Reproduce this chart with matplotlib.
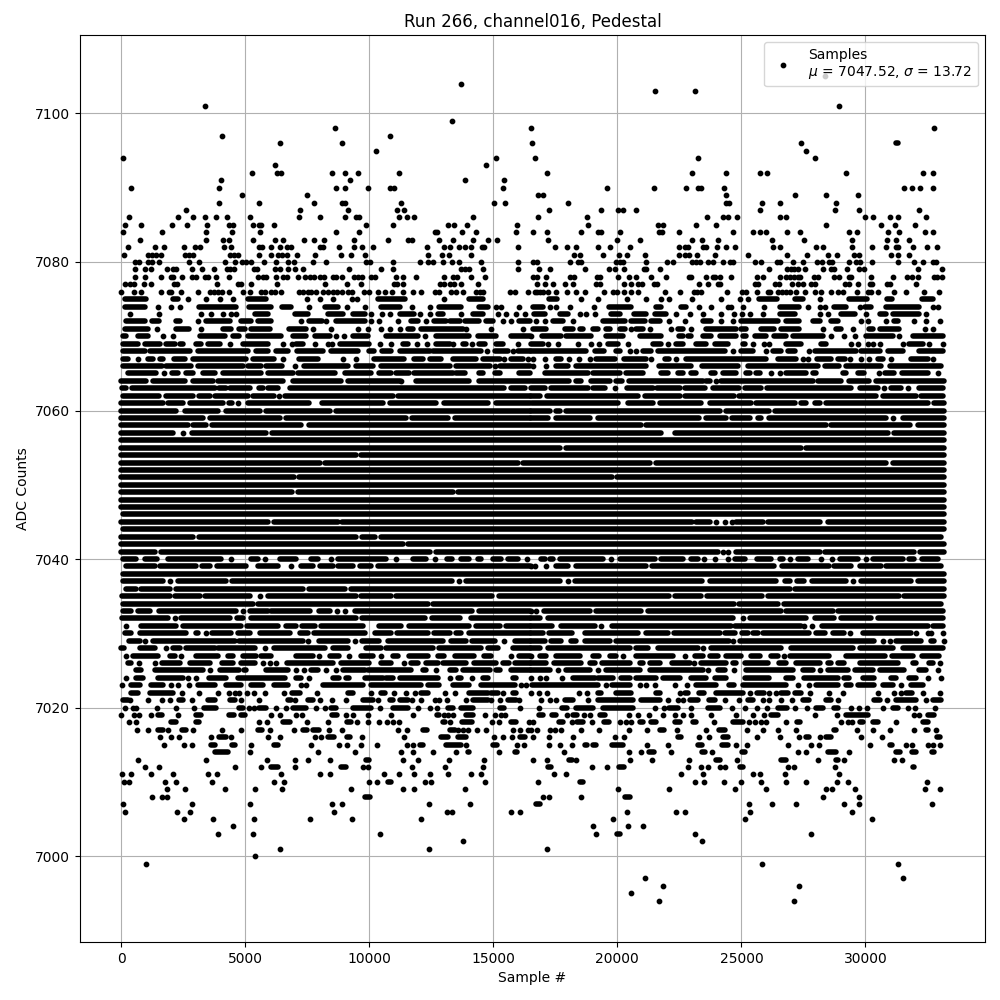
import matplotlib
matplotlib.use('Agg')
import matplotlib.pyplot as plt

title = 'Run 266, channel016, Pedestal'
x_label = 'Sample #'
y_label = 'ADC Counts'
legend_label = 'Samples\n$\\mu$ = 7047.52, $\\sigma$ = 13.72'

# One list per ADC level.
# A plain number is one sample, a tuple is a run of samples that touch each other.
lvl_7105 = [28362]
lvl_7104 = [13692]
lvl_7103 = [21513, 23124]
lvl_7101 = [3378, 28926]
lvl_7099 = [13330]
lvl_7098 = [8615, 16530, 32754]
lvl_7097 = [4063, 10832]
lvl_7096 = [6400, 8898, 16557, 27395, (31250, 31317)]
lvl_7095 = [10268, 27597]
lvl_7094 = [74, 15102, 16678, 23245, 27959]
lvl_7093 = [6198, 14700]
lvl_7092 = [5272, 6265, 6440, 8495, 9018, 9542, 11194, 17161, 23003, 24373, 25743, 26025, 29208, 32310, 32714]
lvl_7091 = [4023, 9220, 13853, 15425]
lvl_7090 = [396, 3942, 8656, 9018, 9945, 10832, 10993, 15384, 19579, 21472, 22762, 23245, 23366, 24293, 31545, 31867, 32190, 32714]
lvl_7089 = [4869, 7487, 16799, 17000, 24373, 27153, 28402, 29692]
lvl_7088 = [3942, 5554, 7770, 8898, 9018, 11275, 15022, 15465, 18007, 24373, 24494, 25824, 26549, 28805]
lvl_7087 = [2612, 7205, 9140, 11114, 11396, 17242, 19337, 20022, 20223, 20747, 25743, 28765, 29732, 32149]
lvl_7086 = [316, 2290, 2894, 3378, 3821, 4264, 5191, 7165, 8011, 9018, 9461, 9582, 11194, 11516, 11798, 14176, 16799, 18773, 23608, 24252, 24454, 24816, 26549, 26791, 29974, 30296, 30981, 31303, 32431]
lvl_7085 = [155, 799, 2048, 2653, 3458, 4345, 4506, 5312, 5554, 5634, 6158, 9865, 10952, 13168, 13410, 13934, 15948, 18813, 21634, 21835, 23164, 23970, 28402, 30618, 31182, 32001]
lvl_7084 = [74, 1646, 3418, 4466, 5594, 8656, 9582, 12644, 12724, 13733, 14296, 15908, 16597, 17161, 18531, 19216, 19337, 20103, 21674, 21795, 22480, 24655, 25461, 25743, 25985, 26831, 27355, 29329, 29652, 30900, 31344, 32391, 32714]
lvl_7083 = [759, 3418, 4103, 4345, 5312, 6198, 6521, 7367, 7770, 8172, 9381, 10751, 11557, 11718, 12806, 13370, 14176, 14780, 15143, 17202, 19982, 20909, 23003, 23406, 24051, 26227, 27516, 29450, 30860, 31222, 31746]
lvl_7082 = [276, 1363, 1726, 2532, 2975, 3177, 4143, 4425, 5554, 5674, 6037, 6400, 6682, 6843, 8011, 8132, 8777, 9381, 9703, 10147, 12322, 13007, 13249, 13612, 13853, 14095, 14539, 14619, 15988, 17484, 17967, 18330, 19216, 19700, 20505, 22480, 22721, 22842, 23447, 23568, 24011, 24373, 24736, 26267, 26549, 28000, 28281, 29450, 30255, 30820, 31222, 31303, 31908, 32472, 32874]
lvl_7081 = [114, 1081, 1242, 1404, 1605, 2572, 2733, 2894, 4385, 4546, 4707, 5554, 6037, 6319, 6480, 6682, 7084, 7810, 8858, 9260, 9824, 12362, 12927, 13209, 14095, 18249, 18491, 19418, 20062, 20385, 21110, 22480, 22721, 22883, 23205, 23930, 25260, 26831, 27637, 28483, 28845, 29530, 29732, 31021, 31303, 31746]
lvl_7080 = [557, 719, 1081, 1242, 1525, 2733, 3136, 4184, 4587, 4869, 5030, 5231, 5755, 6239, 6722, 6964, 7729, 8253, 9865, 10026, 10952, 12040, 12362, 12564, 12967, 13330, 13612, 14498, 15988, 16597, 16758, 18088, 18410, 18531, 19941, 20103, 20223, 21150, 21996, 22238, 23003, 23164, 23326, 23648, 23850, 24252, 24534, 24655, 25542, 25784, 26428, 26549, 27073, 27476, 28040, 28241, 28523, 28644, 29329, 29611, 29773, 30255, 31303, 31948, 32310, 32714, 32834]
lvl_7079 = [557, 960, 1202, 1847, 2088, 2209, 2854, 3257, 3740, 4264, 4385, 4546, 5352, 5473, 6198, 6400, 6722, 7004, 7326, 9180, 10470, 10952, 13692, 13853, 14015, 14579, 15988, 16839, 17282, 18692, 19660, 19901, 20264, 21070, 21150, 21714, 26106, 26831, 26992, 27113, 27274, 27556, 28281, 28604, 28725, 29248, 29732, 29934, 32122, 33076]
lvl_7078 = [557, 960, 1605, 2008, 2088, 2451, 2854, 3015, 3378, 3499, 3821, 4345, 5513, 5715, 5835, 6239, 6521, 6682, 7125, 7407, 7608, 7770, 8011, 8172, 8535, 8656, 8898, 9381, 9542, 9703, 10066, 10227, 11073, 11355, 11879, 13007, 13370, 13531, 14095, 14659, 16597, 16758, 17121, 18088, 18249, 19176, 19297, 20022, 20465, 20747, 21352, 21956, 22883, 22963, 23568, 23850, 23930, 24132, 24575, 25622, 25864, 26549, 26791, 26952, 27113, 27274, 27355, 27919, 28080, 28725, 28926, 29329, 29410, 30215, 31102, 31666, 31867, 32109, 32754, 32874, 33076]
lvl_7077 = [155, 356, 517, 920, 1202, 2129, 2250, 3861, 4707, 4828, 5231, 6279, 8213, 9099, 9663, 10993, 11114, 11355, 12846, 13007, 13249, 13410, 13692, 14377, 16758, 17081, 17403, 17887, 18209, 19136, 19297, 20264, 20546, 20828, 20989, 21472, 21593, 23285, 23648, 24051, 24132, 25542, 25663, 26347, 26509, 27032, 27274, 27476, 27798, 27959, 29168, 29329, 29692, 30175, 30255, 30860, 30981, 32028]
lvl_7076 = [0, 517, 799, 1605, 1927, 2008, 2411, 3096, 3579, 3740, 3902, 4063, 4345, 4909, 5191, 5634, 5795, 6037, 6198, 6440, 7165, 7326, 7528, 7649, 7850, 8132, 8334, 8535, 8696, 8898, 9140, 9300, 9784, 9985, 10348, 10630, 10912, 11355, 11758, 12080, 12644, 12806, 13289, 13491, 13773, 14296, 14458, 14579, 15666, 15868, 16392, 16678, 16758, 16879, 17000, 17202, 17524, 17967, 18330, 18692, 19458, 19821, 19982, 20264, 20546, 20828, 21915, 22520, 23084, 23205, 23366, 24414, 25018, 25179, 25622, 26065, 26146, 26468, 26630, 26791, 26952, 27194, 27556, 27959, 28201, 28604, 28886, 29087, 29651, 30094, 30215, 30497, 31142, 31626, 32350, 32955]
lvl_7075 = [(140, 1010), (2090, 2290), 2690, 3430, 4000, 4506, (5110, 5850), 7490, 8010, 8535, 9300, 9500, (10340, 11450), 13010, (14040, 14580), (17240, 17560), 18545, 19215, 20385, 21160, 21770, 22100, 23000, 24185, 24925, 25260, (25700, 26430), (27180, 27500), 28150, (29330, 30055), (30870, 31060), (32285, 32740)]
lvl_7074 = [(140, 950), 1485, 2020, 2360, (3140, 4640), (5150, 6050), (6490, 6860), 7570, (8200, 8740), 9100, 9810, (10480, 11220), 11720, 12430, (12810, 13710), (14440, 14780), 15120, 15320, 16030, (16600, 17000), 17300, 17510, 18100, 19040, (19660, 20560), (21570, 21770), (22575, 22775), 23310, 23780, 24450, 24590, 25060, 25930, (26540, 27340), 27670, 28150, 28350, (28750, 29220), 29760, (30000, 30230), (30810, 32170), 32740, 32915]
lvl_7073 = [370, 1520, 3230, 3630, 4100, 4440, 4640, (5380, 5920), (6990, 7530), (8330, 8940), (9340, 9810), 10080, 10520, 10820, (11220, 11820), 12030, 12430, (12770, 12970), 13700, (14170, 14580), 15180, 15520, 15920, 16260, (16660, 17070), (17670, 18000), 18480, 18750, 19080, (19750, 20090), (20690, 21160), (21500, 21970), 22370, 22910, 23450, 24185, 24720, 25030, 25330, 25860, (26540, 27140), 28150, 28480, (29020, 29560), 30030, (30570, 30830), (31100, 32170), 32440]
lvl_7072 = [(210, 950), (1260, 1530), (2220, 2360), 3100, (3430, 4370), (4840, 5240), (5510, 6050), 7230, (7570, 8110), 8270, (8640, 9810), 10080, 10390, 11150, (11690, 11960), 12290, (12630, 13100), (13240, 13640), (13840, 14440), (14710, 14980), 15380, 15720, (16050, 16460), 16730, 17100, (17400, 17800), 18210, (19420, 20290), (20560, 21100), (21360, 21700), 22100, 22710, (23450, 23780), 24185, 24650, (24990, 26470), (26780, 27340), (27880, 28150), (28620, 28890), 29825, 30095, 30830, (31170, 31300), 31970, 32440, 33010]
lvl_7071 = [(140, 1080), 1450, (2200, 2730), 3230, (4100, 4440), (4770, 4980), (5240, 5980), (6760, 7460), 7730, 8470, 9540, 9940, 10480, 10820, 11220, (11560, 11760), (12100, 13770), 13910, 14910, 16190, (16600, 17130), (17870, 18210), (18480, 18610), (19010, 19220), (19550, 19690), (20090, 20290), 20560, (20760, 21030), 21300, 22170, (22440, 22640), 22980, (23580, 24790), (24990, 25190), (25800, 26330), (26600, 27340), 28280, (28820, 29020), 29490, (30160, 30300), (30570, 31370), 32380, 32710]
lvl_7070 = [(70, 210), (680, 1080), 1690, 2090, (3160, 4170), (4500, 4770), (5110, 6450), (6920, 7460), (7800, 8400), 8670, 9000, (9340, 9940), (10680, 11960), 12250, (12700, 14040), (14380, 15120), (15720, 16460), 16530, (16970, 17740), (17940, 18950), (19525, 20220), (20900, 21770), (22500, 22640), (22840, 22980), (23450, 23780), (24120, 24790), (25060, 25190), (25530, 26000), (26330, 26800), (27070, 28280), 28620, 29150, 29560, (30030, 31100), 31370, (31900, 33116)]
lvl_7069 = [(70, 680), (950, 1550), (1790, 2160), (2360, 2490), (3030, 3230), (3500, 3970), 4370, (4910, 5920), 6520, 6880, (7060, 7350), 7800, 8330, 8490, (8830, 10010), 10440, 10890, (11350, 11560), 11920, 12320, (12700, 13240), 13370, (13770, 13910), 14140, (14440, 14650), (15120, 15380), 15990, (16530, 17000), 17200, 17600, 18410, 18950, 19260, (19620, 20020), 20420, (21430, 21770), 22040, (22370, 22640), (23150, 23580), (23940, 24450), (25060, 25130), 25460, 25930, 26130, (26780, 27410), (28210, 28410), 29420, 29690, 30100, 30300, 30570, 31500, (31770, 32310), 32580, 33116]
lvl_7068 = [(70, 950), (1150, 2760), (3100, 5110), (5420, 5920), (6250, 6720), (7080, 8130), (8470, 9540), (10010, 10210), (10520, 10890), (11220, 12430), (12560, 14510), 14750, (15050, 15590), 15790, (15990, 16460), (16530, 18750), (19080, 19480), (19930, 20090), 20490, 20760, (21030, 21360), (21630, 24320), 24650, (24990, 25460), 26000, (26270, 26600), (26870, 27140), 27720, (27950, 29620), (29830, 30570), (30900, 31500), (32170, 33116)]
lvl_7067 = [(70, 270), 680, (1080, 1280), (1550, 1690), (2150, 2560), (2900, 5040), (5310, 6180), 6520, (7160, 7930), 8940, 9470, (10210, 11420), (11820, 12160), (12430, 12900), (13370, 14310), (14580, 15250), 15420, (15720, 16190), 16390, 16600, 17070, (17540, 17740), 18070, 18450, 18880, (19150, 19890), (20250, 21160), 21360, (21940, 22100), 22370, (22770, 26000), (26470, 27210), 27480, 27680, (28040, 28620), (28890, 29160), 29380, 29830, 30160, (30500, 30700), 31030, (31840, 32510), 32740]
lvl_7066 = [(70, 1660), (1820, 2830), (3100, 4910), (5110, 5650), (5850, 6490), 6990, (7390, 9140), (9470, 10150), (10480, 13240), (13500, 14850), 15050, (15250, 16460), 16600, 17130, (17540, 18010), (18320, 21160), (21670, 22980), (23420, 24860), (25260, 28080), (28350, 28950), (29220, 30630), (30970, 33050)]
lvl_7065 = [(280, 1420), 1710, (2060, 2290), (2600, 2890), (3300, 3770), (4100, 5650), (5920, 6920), (7130, 8600), (9040, 10080), (10390, 10880), (11090, 11620), (11820, 13370), (13500, 13840), (14420, 14580), (15050, 15250), (16050, 16460), (17070, 18810), (19010, 20090), (20360, 21030), (21770, 22040), (22440, 22640), (22980, 23180), (23780, 23920), (24250, 24790), (25190, 25330), (25600, 25730), 26200, 26540, (26800, 27610), (27880, 28010), (29090, 29220), (29690, 29960), 30540, (30770, 31170), (31480, 32510), 32915]
lvl_7064 = [(8, 1010), (1280, 2560), (2890, 3700), (3900, 6520), (6920, 8870), (9140, 11220), 11300, (11890, 14040), (14440, 16460), (16570, 18050), (18340, 18540), (18950, 19690), (19930, 20200), (20470, 23450), (23580, 23720), 23960, (24185, 27880), (28080, 29020), (29350, 30160), (30430, 33150)]
lvl_7063 = [(50, 180), (440, 3770), (3940, 4210), (4400, 5200), (5550, 5720), (5920, 6320), (6820, 15450), (15720, 16260), (16530, 17070), (17340, 18810), (19010, 19490), 19915, (20380, 21430), (21590, 22510), (22710, 23520), (23850, 24920), (25130, 25800), (26030, 29420), (29790, 30500), 30740, (31040, 31440), 31710, (32150, 33116)]
lvl_7062 = [(70, 1520), (1790, 2890), (3140, 3570), (3770, 5110), (5310, 6180), 6360, (6590, 10950), (11150, 16460), (16530, 16890), (17160, 20830), (21100, 22510), (22710, 24720), (24920, 30430), (30700, 32040), (32240, 33116)]
lvl_7061 = [(8, 1690), (1890, 2490), (2760, 4100), (4350, 4480), 4730, (5110, 7590), (8110, 10550), (10820, 12700), (13030, 14780), (15110, 16460), (16570, 20020), (20430, 21430), (21730, 23380), (23720, 25390), (25600, 27140), (27410, 27610), (27950, 28150), (28390, 32510), (32780, 33150)]
lvl_7060 = [(8, 2220), (2560, 3900), (4210, 5580), (5850, 8400), (8640, 16460), (16530, 17270), (17540, 17700), (17940, 24120), (24390, 26130), (26370, 33150)]
lvl_7059 = [(8, 3300), (3570, 6390), (6650, 11490), (11730, 13170), (13440, 16460), (16530, 17200), (17540, 18880), (19220, 23310), (23580, 24390), (24630, 25330), (25660, 25800), (26100, 30830), 31100, (31500, 33150)]
lvl_7058 = [(8, 2690), (2890, 3430), (3670, 7260), (7590, 20960), (21160, 28420), (28620, 31800), (32110, 33150)]
lvl_7057 = [(8, 2110), 2490, (2870, 5820), (6090, 21770), (22305, 30900), (31170, 33150)]
lvl_7056 = [(8, 33150)]
lvl_7055 = [(8, 17670), (17940, 27410), (27610, 33150)]
lvl_7054 = [(8, 9470), (9680, 33150)]
lvl_7053 = [(8, 8000), (8200, 15990), (16190, 21300), (21540, 30840), (31100, 33150)]
lvl_7052 = [(8, 33150)]
lvl_7051 = [(8, 6950), (7160, 19790), (19980, 33150)]
lvl_7050 = [(0, 33150)]
lvl_7049 = [(8, 6900), (7130, 13370), (13570, 33150)]
lvl_7048 = [(8, 33150)]
lvl_7047 = [(8, 33150)]
lvl_7046 = [(70, 33150)]
lvl_7045 = [(8, 5920), (6180, 8740), (8900, 23020), (23180, 23720), 23980, 24320, 24620, (24790, 25860), (26060, 28150), (28480, 33150)]
lvl_7044 = [(70, 33150)]
lvl_7043 = [(8, 2890), (3140, 9470), (9720, 10250), (10480, 33050)]
lvl_7042 = [(8, 11350), (11560, 33150)]
lvl_7041 = [(8, 1350), (1590, 12430), (12700, 24050), 24250, 24450, (24790, 28150), (28350, 31970), (32200, 33150)]
lvl_7040 = [(70, 585), (950, 1440), (1890, 4040), 4410, (5240, 5510), 5780, (6390, 7060), (7660, 7930), 8470, (8740, 10680), 11060, (11760, 12300), 12670, (13130, 13340), (13700, 14040), (14380, 14510), (14980, 15320), (15590, 15990), 16350, (16930, 17070), (17300, 17400), (17670, 19420), 19750, (20120, 21500), (21770, 22640), (22980, 23250), 23490, 23930, 24450, (24760, 25130), (25620, 26200), (26540, 26670), 26960, (27270, 27680), 28210, 28660, (28980, 29690), 30030, (30300, 31500), (31740, 31970), (32280, 32915)]
lvl_7039 = [(180, 1350), (1580, 3030), (3270, 3590), (3860, 5040), (5510, 6320), 6860, (7260, 7730), (8000, 8535), (8740, 9340), (9640, 10080), (10350, 16460), 16530, 16670, 17130, (17510, 18010), (18320, 21160), (21400, 26330), (26640, 28550), (28750, 29420), (29790, 30630), (30830, 33050)]
lvl_7038 = [(70, 33150)]
lvl_7037 = [(70, 1680), 1950, (2290, 4240), (4480, 13340), 13610, (13880, 17700), 18010, (18280, 23420), (23740, 26400), (26740, 26970), (27230, 27540), (27850, 29200), 29490, (29830, 31840), (32110, 33150)]
lvl_7036 = [(210, 610), (810, 1980), (2220, 7350), (7590, 9040), (9270, 26940), (27140, 33150)]
lvl_7035 = [(50, 1980), (2160, 3160), (3400, 5200), 5610, (5920, 9470), (9680, 10880), (11090, 14950), (15220, 22080), (22340, 23380), (23610, 25840), (26070, 31340), (31570, 33150)]
lvl_7034 = [(70, 5310), (5510, 12360), (12560, 24720), (24920, 26470), (26700, 33050)]
lvl_7033 = [(70, 410), (680, 1150), (1520, 4640), 4910, (5180, 5920), (6050, 7600), (7970, 8400), 8700, 9010, (9410, 14150), (14420, 16460), 16530, 16730, (17030, 18880), (19120, 20960), (21230, 26600), (26780, 28680), (28890, 33116)]
lvl_7032 = [(50, 1890), 2180, (2400, 4370), (4670, 4910), (5240, 9470), (9720, 12230), (12530, 13660), (14110, 16460), (16530, 16870), (17200, 24650), 25060, (25330, 27610), (27950, 28750), (29020, 30230), (30500, 33116)]
lvl_7031 = [180, (810, 2220), (2490, 4840), (5070, 6320), (6630, 7060), (7300, 7800), (8070, 9740), (10390, 11290), (11600, 14040), (14310, 15250), (15520, 16460), (16530, 17370), (17740, 19080), 19350, (19790, 24590), (24760, 27410), 27540, 27850, (28260, 32510), (32710, 33116)]
lvl_7030 = [(140, 410), (780, 2630), (3000, 3100), 3410, (3670, 4440), (4710, 5180), (5580, 6790), (7190, 7530), (7760, 9810), (10250, 10890), (11130, 12360), (12630, 13240), (13500, 13710), (14040, 16460), (16530, 17000), (17240, 18180), (18680, 20830), (21140, 22040), (22300, 24120), (24320, 24760), (25030, 25260), (25460, 25660), (25860, 27740), (27990, 28350), (28680, 29150), 29380, (29890, 31840), 32040, 32510, 32650, 33116]
lvl_7029 = [(320, 750), 970, (1280, 4570), (4770, 7330), 7530, (7970, 9140), 9410, (9720, 10410), (10750, 12970), (13300, 13910), (14150, 15050), 15430, (15860, 16460), (16530, 17070), (17340, 17740), (18140, 18340), (18680, 19690), (19930, 24520), 24680, (24950, 30360), 30700, 30970, (31240, 32240), (32650, 32780), 33160]
lvl_7028 = [(8, 100), (770, 1350), 1820, (2090, 2360), (2600, 3770), (3900, 5380), 5780, (6180, 8200), (8535, 9140), (9880, 10480), (10680, 12560), (12810, 14510), (14780, 15180), (15790, 16460), (16530, 16870), (17200, 20490), (20760, 21230), (21630, 23250), 23450, (23780, 26600), (27000, 29490), (29760, 31100), (31500, 33116)]
lvl_7027 = [210, (480, 1480), (1980, 2160), 2420, (3030, 3900), (4300, 4510), (4910, 5440), (5650, 6050), (7060, 7730), 7960, (8400, 8800), 9170, (9680, 10150), 10480, (10950, 11150), (11620, 12360), (12770, 13030), (13440, 14240), (14640, 14910), 15720, (16050, 16460), 16530, (16870, 17130), (17540, 18480), (19010, 19280), (19690, 19950), 20220, (20760, 22240), 22710, (23110, 23450), (23720, 24050), (24360, 24990), (25390, 25730), (26200, 26470), 26700, (26970, 28550), (29220, 30770), (31080, 31910), (32280, 32980)]
lvl_7026 = [(275, 410), 705, 1380, (1660, 2360), (2790, 3570), (4060, 4500), (4840, 5380), 5710, 6010, 6250, (6680, 8535), (8870, 10010), (10480, 10890), 11420, (11690, 11960), (12270, 12770), (12970, 13910), (14240, 15120), (15410, 15650), (15860, 16460), (16530, 17130), (17430, 18540), (18880, 19080), (19390, 20490), (20900, 21030), (21300, 21700), (22210, 22910), 23070, (23380, 24390), (24650, 24790), (25130, 26070), (26500, 26800), (27210, 28150), (28480, 28620), (28890, 29150), (29760, 31300), (31910, 32040), (32580, 32710), 33010]
lvl_7025 = [(610, 810), (1350, 3300), 3600, (3970, 4770), (4940, 5040), (5850, 6720), 7060, 7390, (7660, 7930), 8270, 8670, (8940, 9810), (9940, 11690), (12160, 12290), 12700, (13240, 13500), (13770, 14850), (15120, 15250), (15720, 16460), (16530, 17270), 17600, (17940, 18880), 19220, (19525, 20900), (21300, 23450), 23650, (24050, 24320), 24720, (25190, 27070), (27480, 27880), 28170, (28480, 29290), (29560, 30300), (30570, 31570), (32170, 32440), 32915]
lvl_7024 = [210, (585, 880), (1480, 2490), 2690, 3030, (3560, 4240), (4710, 6590), (7060, 7260), 7570, (8535, 8800), (9070, 9200), (9810, 10550), (10680, 10950), (11220, 12770), 13240, (13570, 13700), 14150, (14580, 14780), (15790, 15920), 16530, 16870, 17130, 17780, (18210, 19080), (19220, 19820), (20150, 20490), (20760, 21570), (21835, 22510), (22980, 23580), (23920, 24390), (25130, 26130), (26800, 27070), (27540, 28890), (29150, 29350), (29890, 30360), (31040, 31240), (31770, 32040), 32510, 33050]
lvl_7023 = [50, (410, 750), (1220, 1690), 2020, 2290, 2730, (3100, 3770), (4210, 4840), (5240, 5710), (6180, 6720), 7260, 7460, (8130, 9740), (10080, 12090), (12360, 12830), (13370, 14040), (14510, 15860), 16120, 16320, (16570, 19220), 19550, (19790, 20490), 20900, 21160, 21500, 22305, 22800, (23180, 23980), (24520, 24720), (25060, 26800), 27270, 27720, (28010, 28890), (29220, 29420), (29690, 30360), (30700, 31100), 31440, (31840, 32310)]
lvl_7022 = [(410, 680), (1150, 2090), 2460, 3140, 3900, 4345, 4570, 4770, 5080, 5350, 5780, 6550, (6900, 7190), 7890, (9140, 9340), 10070, (10480, 10620), 10990, 11490, 11830, (12090, 12360), 13050, 13460, (14040, 14780), (14910, 15180), 15380, (15790, 15920), 16530, 16840, 17160, 18450, 18770, (19220, 19350), (19950, 20560), (21570, 21700), 22510, (22710, 22840), (23310, 23510), (23960, 25060), 25330, (25620, 25930), 26110, 26400, (26600, 26870), (27140, 27410), 27760, 28520, 29090, 30500, 31140, 31440, (31640, 31870), 32310, 33000]
lvl_7021 = [(70, 280), 370, 1080, 1630, 1970, (2330, 2490), 2850, (3500, 3770), (4400, 4570), 4840, 5550, (6720, 6860), 7000, (7530, 7730), 8000, 8490, 9060, (9740, 10150), 10350, (10820, 10950), (11220, 11560), 11720, 12080, 12640, 12810, 13130, 13910, (14170, 14780), 14910, 15250, (15590, 15920), 16030, 16930, 17300, 17510, (17870, 18210), 18810, (19220, 20630), (20960, 21700), 22040, 22440, 22640, (22910, 23250), (23710, 23920), 24330, 24920, (25260, 25460), 25860, 26130, 26600, 27030, (27480, 27740), (28420, 28620), 28880, (30360, 30570), 30860, (31240, 32040), 32440, (32710, 33050)]
lvl_7020 = [140, 477, 610, 1440, 2210, 2930, (3325, 3830), (4750, 4910), 5150, 5350, (5550, 5850), 6240, 6640, (6920, 7460), 7850, 8210, (8470, 8670), (9340, 10080), 10430, (10950, 11560), 11960, 12440, 12725, (13170, 13370), (13700, 14180), (15250, 15450), 16070, 16840, (17770, 17970), (18340, 19010), (19420, 20630), 21510, 21880, (22100, 22440), 22960, (23650, 24120), 24620, 25160, 25620, 26025, (26470, 26830), 27150, 27640, (28010, 28280), (28750, 28890), 29410, 29720, 30055, 30700, (31100, 31300), 31720, 32000, 32810]
lvl_7019 = [0, 517, 720, 1200, (1485, 1645), 2290, (3030, 3220), (4345, 4550), (4830, 4990), 6040, 6400, 7040, 7290, (8495, 8700), 9060, 9340, 9945, 10870, 11760, (12730, 12830), 13010, 13170, 13370, (13900, 14180), 14670, 15070, 15320, 15480, (16840, 17000), (17380, 17540), 17970, (18210, 18370), 18650, 18890, (19310, 19500), 20465, 20830, 21270, 21835, 22320, 22640, 22960, 23770, 24775, 25460, 25900, (26200, 26470), 27960, 28845, (29220, 30090), 31950, 32150, (32510, 32780)]
lvl_7018 = [316, 600, (2020, 2220), (3000, 3140), 5550, 5875, (6520, 6790), 7490, 8335, (9100, 9270), 9490, 9945, 10390, 10710, 10950, 11195, (12970, 13050), 13250, (13745, 14150), 14940, 15220, (15720, 15920), 16430, 16600, (17640, 17800), 18170, (18370, 18610), 18980, (19480, 19660), 20100, 20340, 20550, (20920, 21030), (21370, 21540), (22305, 22510), (23040, 23150), 23890, (24660, 25060), 25300, 25540, 25780, 25980, 26790, (27230, 27370), 29010, 29290, 29450, (29760, 29890), (30300, 30500), 31240, (32310, 32510)]
lvl_7017 = [640, 1080, (1485, 1685), 1890, (2450, 2600), 2890, 4060, 4830, (5510, 5690), 5995, 6960, (7330, 7490), (7730, 7970), 8375, 8900, 11150, 11515, (12160, 12320), (13260, 13440), 13570, 13770, 13970, 14350, 14700, 15800, 16070, 16390, 16520, 16760, 17270, 17470, 17725, 18530, 19260, 20465, 21190, (21730, 21880), 22400, 23570, (24090, 24320), 25220, 25865, 26470, 27190, (28750, 28820), 29650, 30295, 30980, 31950, (32420, 32540), 32835]
lvl_7016 = [1565, 2010, 2330, 3620, (3940, 4210), 4410, 5920, 6400, 7810, 8050, (8330, 8570), (9100, 9220), 9700, 11395, (12890, 13170), (13570, 13900), 15030, 15385, 15760, (16090, 16260), 16600, 17240, 18210, 19900, 20260, (22440, 22570), 23285, 23690, (24250, 24450), 25620, 26550, 27315, (27610, 27720), 28160, (28420, 28620), 29810, 30660, (32875, 33010)]
lvl_7015 = [1725, 2530, 2850, (3630, 3770), (4480, 4570), 5230, (6160, 6320), 7650, 8775, 9100, 9660, 10310, 11520, 11760, (12030, 12160), (13100, 13700), 13910, (14980, 15140), 15950, 16230, 17240, 17685, 18170, (18680, 18770), (19010, 19150), (19780, 20220), 21190, 22040, (23245, 23420), (24225, 24450), 24775, 25220, 26870, 27800, 28120, 30175, (30980, 31060), 31620, 31870, 32510, 32730, 33000]
lvl_7014 = [(3770, 4300), 5190, 7930, 9420, 11275, 11760, 12565, 13490, (13975, 14040), 15220, (15880, 15960), 17845, 20465, 20950, (21270, 21460), 22160, (23420, 23530), 23810, (25020, 25150), 27275, 27600, (28480, 28820), 29330, (31240, 31400), (31880, 32040), (32670, 32780)]
lvl_7013 = [680, 3420, 5875, 7000, 7530, 8415, (9880, 10010), 11355, 11960, 13210, 14620, 16600, 17160, (18050, 18180), 18330, 20505, 21390, 22880, (23980, 24120), 24815, (26600, 26780), 28080, (28820, 28890), 29130, 31140, 31465]
lvl_7012 = [960, 1525, 4585, 5635, (6040, 6320), 7000, (8870, 9045), 9745, 9945, 11720, 13045, 14580, (17200, 17340), 18975, 19580, (20060, 20250), 22840, 23365, 23650, 24130, 24330, (24950, 25060), 26870, 27115, 28765, (31910, 31970)]
lvl_7011 = [35, 395, 1200, 2090, 3500, 3860, 6440, 8010, 8415, 10590, 11195, 11800, 12440, 13170, 14095, 14500, 17445, 17930, 22560, 23445, 25460, 25745, 26750, 28925]
lvl_7010 = [115, 315, 1765, 2210, 3660, 6160, 6560, 9985, 10310, (10750, 10885), 12240, 12480, 14660, 16800, (18480, 18610), 23125, 23490, 24290, 24975, 25785, 26790, 27595, 28845, 29290, 32470]
lvl_7009 = [1845, 2570, 4185, 5390, 6480, 9260, 11355, 11800, 13855, 20020, 22075, 24735, 25985, 28400, 28645, 29570, 32390, 32995]
lvl_7008 = [1240, 1645, 1845, (9825, 10025), 17000, 17240, 18530, (20320, 20490), 28280, 29730]
lvl_7007 = [75, 2870, 5190, 8495, 8900, 12400, 14055, (16720, 16880), 25300, 26225, 27195, 29130, 29730, 32670]
lvl_7006 = [155, 2250, 2775, 8575, 13130, 13330, 15705, 16070, 20385, 22360, 22720, 25340, 29450]
lvl_7005 = [2530, 3700, 5350, 7610, 9300, 12080, 19820, 25140, 30255]
lvl_7004 = [4506, 19015, 20425, 21030]
lvl_7003 = [3900, 5310, 10430, 19135, (19980, 20090), 23125, 27800]
lvl_7002 = [13770, 23405]
lvl_7001 = [6400, 12400, 17160]
lvl_7000 = [5390]
lvl_6999 = [1000, 25825, 31300]
lvl_6997 = [21095, 31505]
lvl_6996 = [21835, 27315]
lvl_6995 = [20545]
lvl_6994 = [21670, 27115]

fig, ax = plt.subplots(figsize=(10, 10))

single_x = []
single_y = []
for level in range(6994, 7106):
    for item in globals().get(f'lvl_{level}', []):
        if isinstance(item, tuple):
            # same width as the dots: 4 pt line, round ends
            ax.plot(item, [level, level], color='k', linewidth=4, solid_capstyle='round')
        else:
            single_x.append(item)
            single_y.append(level)

ax.plot(single_x, single_y, 'k.', markersize=6.3, label=legend_label)

ax.set_title(title)
ax.set_xlabel(x_label)
ax.set_ylabel(y_label)
ax.grid(True)
ax.legend(loc='upper right')

fig.subplots_adjust(left=0.08, right=0.985, top=0.965, bottom=0.058)
plt.savefig('out.png', dpi=100)
